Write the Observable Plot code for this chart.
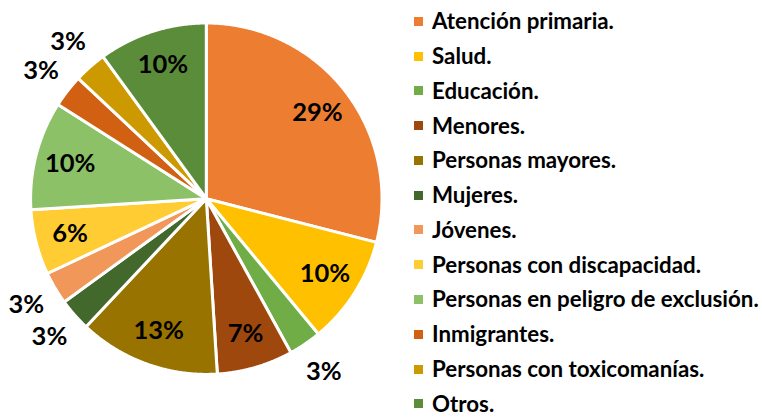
<!DOCTYPE html>
<html><head><meta charset="utf-8">
<script src="https://cdn.jsdelivr.net/npm/d3@7"></script>
<script src="https://cdn.jsdelivr.net/npm/@observablehq/plot@0.6"></script>
<style>
body{margin:0;background:#fff;}
#wrap{position:relative;width:762px;height:417px;font-family:Lato,sans-serif;overflow:hidden;}
#legend{position:absolute;left:414px;top:4px;}
.item{display:flex;align-items:center;height:34.77px;font-weight:700;font-size:22.3px;line-height:1;color:#000;white-space:nowrap;}
.sw{width:9px;height:9px;margin-right:9px;flex:none;}
</style></head><body><div id="wrap"><div id="chart"></div><div id="legend"></div></div>
<script>
const categories = ["Atención primaria.","Salud.","Educación.","Menores.","Personas mayores.","Mujeres.","Jóvenes.","Personas con discapacidad.","Personas en peligro de exclusión.","Inmigrantes.","Personas con toxicomanías.","Otros."];
const values = [29,10,3,7,13,3,3,6,10,3,3,10];
const colors = ["#ED7D31","#FFC000","#70AD47","#9E480E","#997300","#43682B","#F1975A","#FFCD33","#8CC168","#D26012","#CC9A00","#5B8C3A"];

const arcs = d3.pie().sort(null).value(d => d)(values);
const pts = [];
arcs.forEach((a, i) => {
  const cat = categories[i];
  pts.push({cat, x: 0, y: 0});
  const n = Math.max(4, Math.ceil((a.endAngle - a.startAngle) / 0.005));
  for (let k = 0; k <= n; k++) {
    const t = a.startAngle + (a.endAngle - a.startAngle) * k / n;
    pts.push({cat, x: Math.sin(t), y: Math.cos(t)});
  }
});
const labs = arcs.map((a, i) => {
  const m = (a.startAngle + a.endAngle) / 2;
  const k = values[i] < 5 ? 1.19 : 0.8;
  return {label: values[i] + "%", x: Math.sin(m) * k, y: Math.cos(m) * k};
});

const cx = 205.8, cy = 198.2, R = 175.7;
const plot = Plot.plot({
  width: 762, height: 417, margin: 0,
  x: {domain: [-1, 1], range: [cx - R, cx + R], axis: null},
  y: {domain: [-1, 1], range: [cy + R, cy - R], axis: null},
  color: {domain: categories, range: colors},
  style: {background: "#fff", overflow: "visible"},
  marks: [
    Plot.line(pts, {x: "x", y: "y", z: "cat", fill: "cat", stroke: "white", strokeWidth: 3, strokeLinejoin: "round", curve: "linear-closed"}),
    Plot.text(labs, {x: "x", y: "y", text: "label", fontSize: 25.5, fontWeight: "bold", fontFamily: "Lato", fill: "#000"})
  ]
});
document.getElementById("chart").appendChild(plot);
const color = plot.scale("color");
const leg = d3.select("#legend");
categories.forEach(c => {
  const it = leg.append("div").attr("class", "item");
  it.append("div").attr("class", "sw").style("background", color.apply(c));
  it.append("span").text(c);
});
</script>
</body></html>
